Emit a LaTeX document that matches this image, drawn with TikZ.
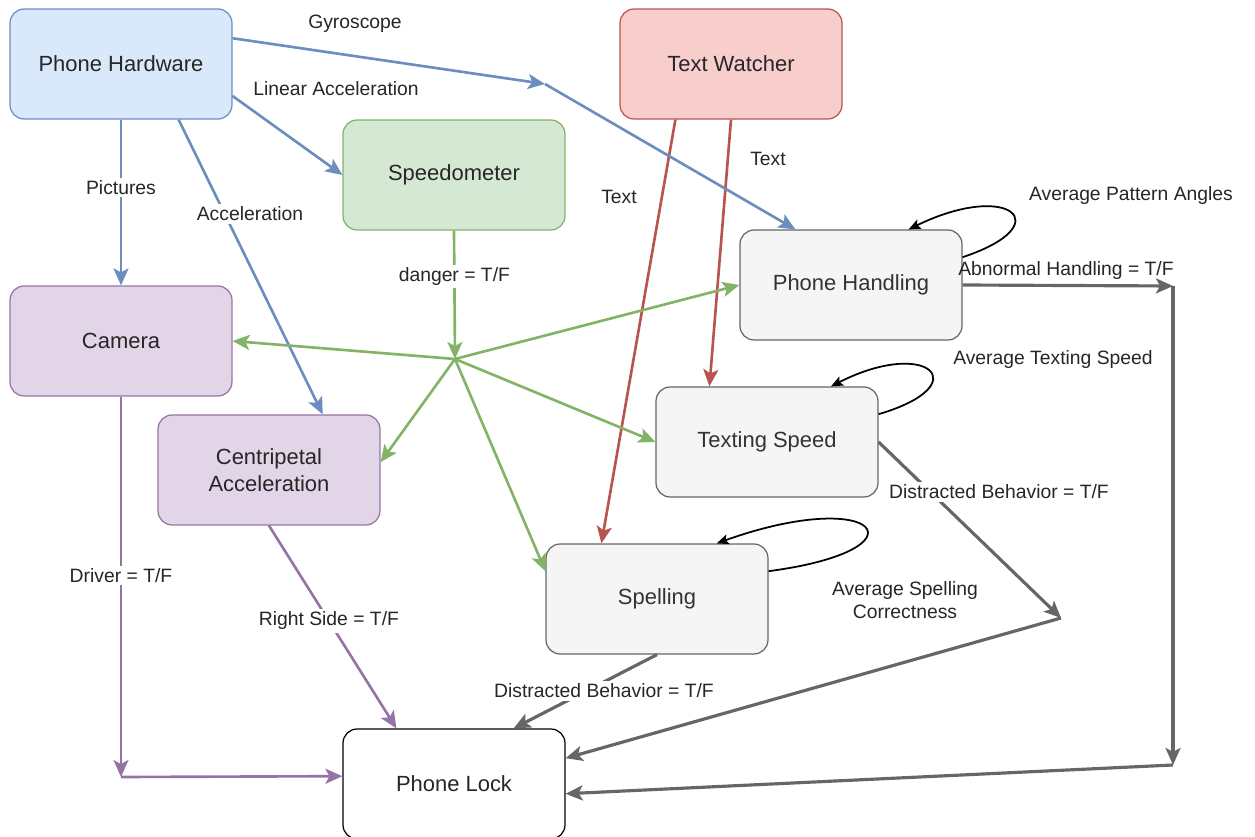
\documentclass[tikz,border=0pt]{standalone}
\usepackage{fontspec}
\setmainfont{Liberation Sans}
\usetikzlibrary{arrows.meta}
\definecolor{hwfill}{HTML}{DAE8FC}
\definecolor{hwline}{HTML}{6C8EBF}
\definecolor{twfill}{HTML}{F8CECC}
\definecolor{twline}{HTML}{B85450}
\definecolor{spfill}{HTML}{D5E8D4}
\definecolor{spline}{HTML}{82B366}
\definecolor{camfill}{HTML}{E1D5E7}
\definecolor{camline}{HTML}{9673A6}
\definecolor{evfill}{HTML}{F5F5F5}
\definecolor{evline}{HTML}{666666}
\definecolor{evtext}{HTML}{333333}

\begin{document}
\begin{tikzpicture}[x=0.02cm, y=-0.02cm,
  box/.style={rectangle, draw, line width=0.7pt, rounded corners=8pt,
    minimum width=4.44cm, minimum height=2.2cm, align=center,
    text=black!85, font=\fontsize{12.5}{15}\selectfont},
  lbl/.style={font=\fontsize{11}{13}\selectfont, text=black!85, inner sep=1.5pt, align=center},
  arr/.style={-{Stealth[length=0.34cm, width=0.3cm, inset=0.08cm]}, line width=1.5pt},
  selfloop/.style={-{Stealth[length=0.24cm, width=0.2cm, inset=0.05cm]}, line width=1pt, black}
]
  \useasboundingbox (0,0) rectangle (1255,837);

  \node[box, fill=hwfill, draw=hwline] (hw) at (121,64) {Phone Hardware};
  \node[box, fill=twfill, draw=twline] (tw) at (731,64) {Text Watcher};
  \node[box, fill=spfill, draw=spline] (speedo) at (454,175) {Speedometer};
  \node[box, fill=evfill, draw=evline, text=evtext] (handling) at (851,285) {Phone Handling};
  \node[box, fill=camfill, draw=camline] (cam) at (121,341) {Camera};
  \node[box, fill=camfill, draw=camline] (cent) at (269,470) {Centripetal\\Acceleration};
  \node[box, fill=evfill, draw=evline, text=evtext] (texting) at (767,442) {Texting Speed};
  \node[box, fill=evfill, draw=evline, text=evtext] (spell) at (657,599) {Spelling};
  \node[box, fill=white, draw=black] (lock) at (454,784) {Phone Lock};

  \coordinate (gyro) at (545,84);
  \coordinate (hub) at (455,359);
  \coordinate (driver) at (121,777);
  \coordinate (distr) at (1061,618);
  \coordinate (abn) at (1173,286);
  \coordinate (abn2) at (1173,765);

  \draw[arr, twline] (tw.-135) -- (spell.135);
  \draw[arr, twline] (tw.-90) -- (texting.136);
  \node[lbl] (t1) at (619,197) {Text};
  \node[lbl] (t2) at (768,159) {Text};

  \draw[arr, hwline] (hw.13) -- (gyro);
  \draw[arr, hwline] (gyro) -- (handling.135);
  \node[lbl] (g) at (355,24) {Gyroscope};
  \draw[arr, hwline] (hw.-16) -- (speedo.west);
  \node[lbl] (la) at (336,89) {Linear Acceleration};
  \draw[arr, hwline] (hw.south) -- (cam.north) node[lbl, fill=white, pos=0.41] {Pictures};
  \draw[arr, hwline] (hw.-44) -- (cent.46);
  \node[lbl, fill=white] (acc) at (250,214) {Acceleration};

  \draw[arr, spline] (speedo.south) -- (hub) node[lbl, fill=white, pos=0.36] {danger = T/F};
  \foreach \t in {cam.east, cent.4, handling.west, texting.west, spell.166}
    \draw[arr, spline] (hub) -- (\t);

  \draw[arr, camline] (cam.south) -- (driver) node[lbl, fill=white, pos=0.47] {Driver = T/F};
  \draw[arr, camline] (driver) -- (lock.176);
  \draw[arr, camline] (cent.south) -- (lock.136) node[lbl, fill=white, pos=0.47] {Right Side = T/F};

  \draw[arr, evline, line width=1.8pt] (spell.south) -- (lock.43);
  \node[lbl, fill=white] (db1) at (604,691) {Distracted Behavior = T/F};
  \draw[arr, evline, line width=1.8pt] (texting.east) -- (distr);
  \node[lbl, fill=white] (db2) at (999,492) {Distracted Behavior = T/F};
  \draw[arr, evline, line width=1.8pt] (distr) -- (lock.13);
  \draw[arr, evline, line width=1.8pt] (handling.east) -- (abn);
  \node[lbl] (ah) at (1066,271) {Abnormal Handling = T/F};
  \draw[arr, evline, line width=1.8pt] (abn) -- (abn2);
  \draw[arr, evline, line width=1.8pt] (abn2) -- (lock.-5);

  \draw[selfloop] (handling.14) .. controls (1060,225) and (1010,180) .. (handling.44);
  \node[lbl] (apa) at (1131,196) {Average Pattern Angles};
  \draw[selfloop] (texting.14) .. controls (978,385) and (928,337) .. (texting.41);
  \node[lbl] (ats) at (1053,360) {Average Texting Speed};
  \draw[selfloop] (spell.14) .. controls (930,550) and (880,485) .. (spell.43);
  \node[lbl] (asc) at (905,600) {Average Spelling\\Correctness};
\end{tikzpicture}
\end{document}
